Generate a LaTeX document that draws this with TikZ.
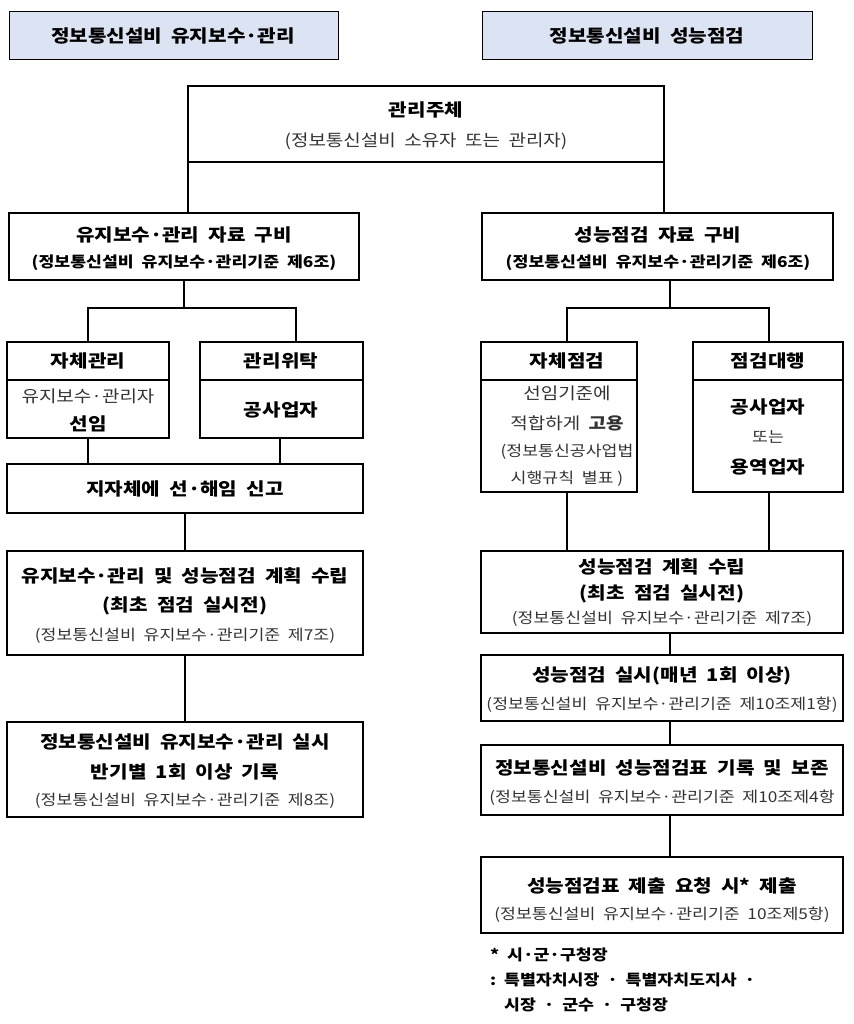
\documentclass[tikz,border=0pt]{standalone}
\usepackage{fontspec}
\setmainfont[FakeStretch=1.15]{Noto Sans CJK KR}
\begin{document}
\begin{tikzpicture}[x=1pt,y=-1pt,
  bx/.style={draw,line width=1.3pt},
  hd/.style={draw,line width=1pt,fill=hdfill},
  ln/.style={line width=1.3pt},
  B/.style={font=\fontsize{17.5}{20}\selectfont\bfseries,align=center,inner sep=0},
  BS/.style={font=\fontsize{15}{17}\selectfont\bfseries,align=center,inner sep=0},
  S/.style={font=\fontsize{15}{17}\selectfont,text=black!80,align=center,inner sep=0},
  N/.style={font=\fontsize{16.5}{20}\selectfont,text=black!80,align=center,inner sep=0}]
\definecolor{hdfill}{HTML}{DCE3F2}
\useasboundingbox (0,0) rectangle (853,1024);
% headers
\draw[hd] (9,12) rectangle (338,60); \node[B] (h1) at (173,36) {정보통신설비\ \ 유지보수·관리};
\draw[hd] (482,12) rectangle (812,60); \node[B] (h2) at (647,36) {정보통신설비\ \ 성능점검};
% top
\draw[bx] (188,86) rectangle (664,162);
\node[B] (t1) at (426,110) {관리주체};
\node[N] (t2) at (426,141) {(정보통신설비\ \ 소유자\ \ 또는\ \ 관리자)};
\draw[ln] (188,162)--(188,213); \draw[ln] (664,162)--(664,213);
% left column
\draw[bx] (9,213) rectangle (359,280);
\node[B] at (184,235) {유지보수·관리\ \ 자료\ \ 구비};
\node[BS] at (184,263) {(정보통신설비\ \ 유지보수·관리기준\ \ 제6조)};
\draw[ln] (184,280)--(184,308); \draw[ln] (88,342)--(88,308)--(296,308)--(296,342);
\draw[bx] (7,342) rectangle (169,438); \draw[ln] (7,380)--(169,380);
\node[B] at (88,361) {자체관리};
\node[N] at (88,396) {유지보수·관리자};
\node[B] at (88,424) {선임};
\draw[bx] (200,342) rectangle (363,438); \draw[ln] (200,380)--(363,380);
\node[B] at (281,361) {관리위탁};
\node[B] at (281,410) {공사업자};
\draw[ln] (88,438)--(88,464); \draw[ln] (280,438)--(280,464);
\draw[bx] (7,464) rectangle (363,513);
\node[B] at (185,489) {지자체에\ \ 선·해임\ \ 신고};
\draw[ln] (185,513)--(185,551);
\draw[bx] (7,551) rectangle (363,655);
\node[B] at (185,576) {유지보수·관리\ \ 및\ \ 성능점검\ \ 계획\ \ 수립};
\node[B] at (185,606) {(최초\ \ 점검\ \ 실시전)};
\node[S] at (185,636) {(정보통신설비\ \ 유지보수·관리기준\ \ 제7조)};
\draw[ln] (185,655)--(185,722);
\draw[bx] (7,722) rectangle (363,817);
\node[B] at (185,742) {정보통신설비\ \ 유지보수·관리\ \ 실시};
\node[B] at (185,772) {반기별\ \ 1회\ \ 이상\ \ 기록};
\node[S] at (185,801) {(정보통신설비\ \ 유지보수·관리기준\ \ 제8조)};
% right column
\draw[bx] (482,213) rectangle (833,280);
\node[B] at (658,235) {성능점검\ \ 자료\ \ 구비};
\node[BS] at (658,263) {(정보통신설비\ \ 유지보수·관리기준\ \ 제6조)};
\draw[ln] (670,280)--(670,308); \draw[ln] (567,342)--(567,308)--(769,308)--(769,342);
\draw[bx] (481,342) rectangle (637,492); \draw[ln] (481,380)--(637,380);
\node[B] at (567,361) {자체점검};
\node[N] at (567,393) {선임기준에};
\node[N] at (567,423) {적합하게\ \ \textbf{고용}};
\node[S] at (567,452) {(정보통신공사업법};
\node[S] at (567,479) {시행규칙\ \ 별표 )};
\draw[bx] (693,342) rectangle (843,492); \draw[ln] (693,380)--(843,380);
\node[B] at (768,361) {점검대행};
\node[B] at (768,407) {공사업자};
\node[S] at (768,437) {또는};
\node[B] at (768,467) {용역업자};
\draw[ln] (567,492)--(567,551); \draw[ln] (769,492)--(769,551);
\draw[bx] (481,551) rectangle (843,633);
\node[B] at (662,567) {성능점검\ \ 계획\ \ 수립};
\node[B] at (662,594) {(최초\ \ 점검\ \ 실시전)};
\node[S] at (662,619) {(정보통신설비\ \ 유지보수·관리기준\ \ 제7조)};
\draw[ln] (670,633)--(670,655);
\draw[bx] (481,655) rectangle (843,721);
\node[B] at (662,676) {성능점검\ \ 실시(매년\ \ 1회\ \ 이상)};
\node[S] at (662,705) {(정보통신설비\ \ 유지보수·관리기준\ \ 제10조제1항)};
\draw[ln] (670,721)--(670,745);
\draw[bx] (481,745) rectangle (843,815);
\node[B] at (662,768) {정보통신설비\ \ 성능점검표\ \ 기록\ \ 및\ \ 보존};
\node[S] at (662,798) {(정보통신설비\ \ 유지보수·관리기준\ \ 제10조제4항};
\draw[ln] (670,815)--(670,857);
\draw[bx] (481,857) rectangle (843,933);
\node[B] at (662,886) {성능점검표\ \ 제출\ \ 요청\ \ 시*\ \ 제출};
\node[S] at (662,915) {(정보통신설비\ \ 유지보수·관리기준\ \ 10조제5항)};
% footnote
\node[BS,anchor=west] at (490,955) {*\ \ 시·군·구청장};
\node[BS,anchor=west] at (490,980) {:\ \ 특별자치시장\ \ ·\ \ 특별자치도지사\ \ ·};
\node[BS,anchor=west] at (504,1005) {시장\ \ ·\ \ 군수\ \ ·\ \ 구청장};
\end{tikzpicture}
\end{document}
